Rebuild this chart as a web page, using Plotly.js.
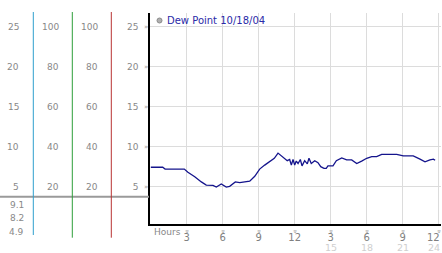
<!DOCTYPE html>
<html><head><meta charset="utf-8">
<script src="https://cdn.plot.ly/plotly-3.0.1.min.js"></script>
<style>html,body{margin:0;padding:0;background:#fff;}#chart{width:442px;height:253px;}</style>
</head><body><div id="chart"></div>
<script>
// ---- data ----
const hours = [0, 1.0, 1.2, 2.8, 3.1, 3.67, 4.22, 4.63, 5.19, 5.47, 5.88, 6.3, 6.58, 7.05, 7.42, 7.83, 8.25, 8.67, 9.08, 9.5, 9.92, 10.3, 10.61, 10.88, 11.17, 11.38, 11.58, 11.72, 11.86, 12.0, 12.13, 12.28, 12.47, 12.61, 12.83, 13.05, 13.19, 13.38, 13.67, 13.94, 14.17, 14.44, 14.63, 14.77, 15.19, 15.47, 15.92, 16.33, 16.75, 17.17, 17.58, 18.0, 18.42, 18.83, 19.25, 19.67, 20.5, 21.05, 21.88, 22.44, 22.86, 23.27, 23.56, 23.7];
const dewPoint = [7.43, 7.43, 7.2, 7.2, 6.8, 6.25, 5.6, 5.2, 5.17, 4.96, 5.33, 4.96, 5.05, 5.6, 5.5, 5.6, 5.7, 6.3, 7.2, 7.7, 8.1, 8.55, 9.2, 8.85, 8.55, 8.25, 8.4, 7.7, 8.4, 7.7, 8.2, 7.9, 8.4, 7.6, 8.25, 7.85, 8.55, 7.9, 8.25, 8.0, 7.5, 7.3, 7.3, 7.6, 7.6, 8.25, 8.6, 8.35, 8.35, 7.9, 8.2, 8.55, 8.75, 8.75, 9.05, 9.05, 9.05, 8.85, 8.85, 8.45, 8.1, 8.35, 8.45, 8.3];
const hourTicks = [3, 6, 9, 12, 15, 18, 21, 24];
const hourLabels = ['3', '6', '9', '12', '3', '6', '9', '12'];
const hourLabels2 = ['', '', '', '', '15', '18', '21', '24'];
const tempTicks = [25, 20, 15, 10, 5];
const pctTicks = [100, 80, 60, 40, 20];
const lowerLabels = ['9.1', '8.2', '4.9'];
const legendText = 'Dew Point 10/18/04';
const xTitle = 'Hours';

// ---- layout helpers (pixel -> paper) ----
const W = 442, H = 253;
const px = v => v / W;
const py = v => 1 - v / H;
const FONT = 'DejaVu Sans, Verdana, sans-serif';
const plotL = 150.3, plotR = 441, plotT = 13, plotB = 223.5;
const lastIdx = hourTicks.length - 1;

const annotations = [];
tempTicks.forEach(v => annotations.push({xref:'paper', yref:'y', x: px(20.5), y: v, xanchor:'right', yanchor:'middle', text: String(v), showarrow:false, font:{family:FONT, size:9, color:'#888'}}));
[60.5, 99.5].forEach(cx => pctTicks.forEach(v => annotations.push({xref:'paper', yref:'y', x: px(cx), y: v / 4, xanchor:'right', yanchor:'middle', text: String(v), showarrow:false, font:{family:FONT, size:9, color:'#888'}})));
tempTicks.forEach(v => annotations.push({xref:'paper', yref:'y', x: px(146), y: v, xanchor:'center', yanchor:'middle', text:'»', showarrow:false, font:{family:FONT, size:7, color:'#999'}}));
lowerLabels.forEach((t, i) => annotations.push({xref:'paper', yref:'paper', x: px(25.5), y: py([205, 218, 231.5][i]), xanchor:'right', yanchor:'middle', text: t, showarrow:false, font:{family:FONT, size:9, color:'#888'}}));
hourTicks.forEach((h, i) => {
  const last = i === lastIdx;
  annotations.push({xref:'x', yref:'paper', x: h, y: py(231), xanchor:'center', yanchor:'middle', text:'»', textangle:90, showarrow:false, font:{family:FONT, size:7, color:'#8c8c8c'}});
  if (hourLabels2[i]) annotations.push({xref: last ? 'paper' : 'x', yref:'paper', x: last ? px(442) : h, y: py(247), xanchor: last ? 'right' : 'center', yanchor:'middle', text: hourLabels2[i], showarrow:false, font:{family:FONT, size:9.5, color:'#cfcfcf'}});
});
// last first-row label kept inside the picture's right edge
annotations.push({xref:'paper', yref:'paper', x: px(442), y: py(237.5), xanchor:'right', yanchor:'middle', text: hourLabels[lastIdx], showarrow:false, font:{family:FONT, size:10, color:'#808080'}});
annotations.push({xref:'paper', yref:'paper', x: px(152), y: py(232), xanchor:'left', yanchor:'middle', text: xTitle, showarrow:false, font:{family:FONT, size:9, color:'#888'}});
annotations.push({xref:'paper', yref:'paper', x: px(165), y: py(20.5), xanchor:'left', yanchor:'middle', text: legendText, showarrow:false, font:{family:FONT, size:10, color:'#2a2aa8'}});

const shapes = [
  {type:'line', xref:'paper', yref:'paper', x0: px(0), x1: px(149), y0: py(196.7), y1: py(196.7), line:{color:'#9a9a9a', width:2}},
  {type:'line', xref:'paper', yref:'paper', x0: px(33.3), x1: px(33.3), y0: py(12), y1: py(235), line:{color:'#2f9fce', width:1}},
  {type:'line', xref:'paper', yref:'paper', x0: px(72.3), x1: px(72.3), y0: py(12), y1: py(237.7), line:{color:'#2e9e3a', width:1}},
  {type:'line', xref:'paper', yref:'paper', x0: px(111.3), x1: px(111.3), y0: py(12), y1: py(237.7), line:{color:'#b83232', width:1}},
  {type:'circle', xref:'paper', yref:'paper', x0: px(157), x1: px(162), y0: py(23), y1: py(18), fillcolor:'#b0b0b0', line:{color:'#8a8a8a', width:1}}
];

const trace = {x: hours, y: dewPoint, type:'scatter', mode:'lines', line:{color:'#14148c', width:1.3}, hoverinfo:'skip'};

const layout = {
  width: W, height: H,
  margin: {l:0, r:0, t:0, b:0, pad:0},
  paper_bgcolor:'#fff', plot_bgcolor:'#fff',
  showlegend:false,
  xaxis: {domain:[px(plotL), px(plotR)], range:[(plotL-150.7)/12, (plotR-150.7)/12], tickvals: hourTicks,
          ticktext: hourLabels.map((t, i) => i === lastIdx ? '' : t),
          showgrid:true, gridcolor:'#dcdcdc', gridwidth:1, zeroline:false, showline:true, linecolor:'#000', linewidth:2,
          ticks:'', tickfont:{family:FONT, size:10, color:'#808080'}, ticklabelstandoff: 3, ticklabeloverflow:'allow', fixedrange:true},
  yaxis: {domain:[py(plotB), py(plotT)], range:[5 - (plotB-186.7)/8, 25 + (26.7-plotT)/8], tickvals: tempTicks,
          showgrid:true, gridcolor:'#dcdcdc', gridwidth:1, zeroline:false, showline:true, linecolor:'#000', linewidth:2,
          ticks:'', tickfont:{family:FONT, size:9, color:'#888'}, ticklabelstandoff: 8, fixedrange:true},
  annotations, shapes
};
Plotly.newPlot('chart', [trace], layout, {staticPlot:true, displayModeBar:false});
</script></body></html>
